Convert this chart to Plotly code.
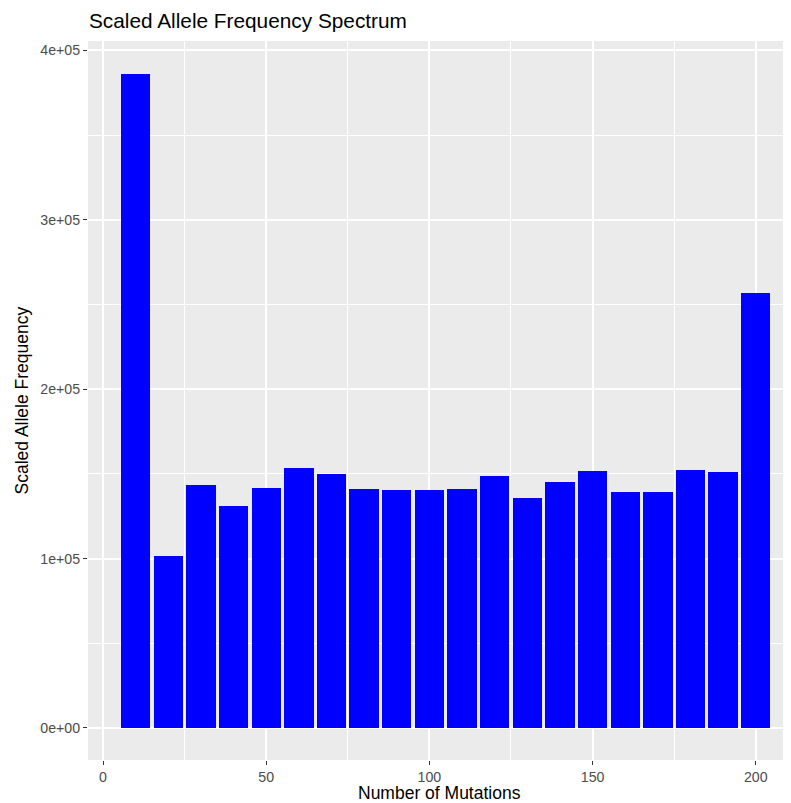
import plotly.graph_objects as go

mutations = [10, 20, 30, 40, 50, 60, 70, 80, 90, 100,
             110, 120, 130, 140, 150, 160, 170, 180, 190, 200]
frequency = [386100, 101500, 143400, 131000, 141700, 153500, 149900, 141100, 140500, 140500,
             141100, 148800, 135800, 145200, 151700, 139300, 139300, 152300, 151100, 256800]
x_ticks = [0, 50, 100, 150, 200]
y_ticks = [0, 100000, 200000, 300000, 400000]
y_tick_labels = ["0e+00", "1e+05", "2e+05", "3e+05", "4e+05"]

# page body has an 8px margin, so the figure starts at (8, 8)
W, H = 783, 795
L, R, T, B = 80, 0, 33, 43

fig = go.Figure(go.Bar(x=mutations, y=frequency, width=9, marker=dict(color="#0000FF", line=dict(width=0))))

tickfont = dict(family="Liberation Sans, Arial, sans-serif", size=14.2, color="#4D4D4D")
fig.update_layout(
    width=W, height=H,
    margin=dict(l=L, r=R, t=T, b=B, pad=0),
    paper_bgcolor="white", plot_bgcolor="#EBEBEB",
    showlegend=False, bargap=0,
    font=dict(family="Liberation Sans, Arial, sans-serif"),
    xaxis=dict(range=[-4.6, 210.8], tickvals=x_ticks, ticktext=[str(v) for v in x_ticks],
               showgrid=True, gridcolor="white", gridwidth=1.5,
               minor=dict(tickvals=[25, 75, 125, 175], showgrid=True, gridcolor="white", gridwidth=0.8, ticks=""),
               ticks="outside", ticklen=4, tickwidth=1.1, tickcolor="#333333",
               tickfont=tickfont, zeroline=False, showline=False, fixedrange=True),
    yaxis=dict(range=[-18900, 405600], tickvals=y_ticks, ticktext=y_tick_labels,
               showgrid=True, gridcolor="white", gridwidth=1.5,
               minor=dict(tickvals=[50000, 150000, 250000, 350000], showgrid=True, gridcolor="white", gridwidth=0.8, ticks=""),
               ticks="outside", ticklen=4, tickwidth=1.1, tickcolor="#333333",
               tickfont=tickfont, zeroline=False, showline=False, fixedrange=True),
    annotations=[
        dict(text="Scaled Allele Frequency Spectrum", xref="paper", yref="paper",
             x=0, y=1, xanchor="left", yanchor="middle", yshift=21, xshift=-1,
             showarrow=False, font=dict(size=20.8, color="black")),
        dict(text="Number of Mutations", xref="paper", yref="paper",
             x=0.5, y=0, xanchor="center", yanchor="middle", yshift=-33,
             showarrow=False, font=dict(size=17.5, color="black")),
        dict(text="Scaled Allele Frequency", xref="paper", yref="paper",
             x=0, y=0.5, xanchor="center", yanchor="middle", xshift=-67, textangle=-90,
             showarrow=False, font=dict(size=17.5, color="black")),
    ],
)

fig.write_html("out.html")
